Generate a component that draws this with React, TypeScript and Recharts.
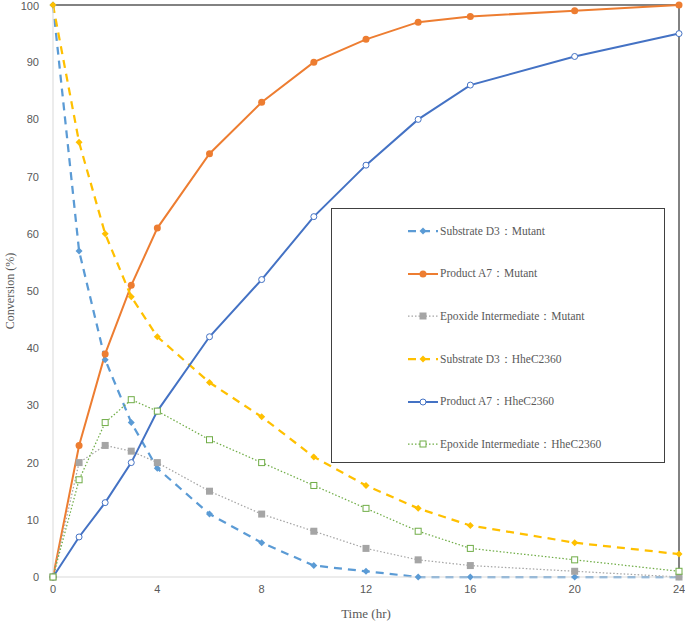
import { LineChart, Line, XAxis, YAxis, ReferenceLine, Legend } from "recharts";

// hours sampled
const hours = [0, 1, 2, 3, 4, 6, 8, 10, 12, 14, 16, 20, 24];

// Mutant
const substrateMutant = [100, 57, 38, 27, 19, 11, 6, 2, 1, 0, 0, 0, 0];
const productMutant = [0, 23, 39, 51, 61, 74, 83, 90, 94, 97, 98, 99, 100];
const epoxideMutant = [0, 20, 23, 22, 20, 15, 11, 8, 5, 3, 2, 1, 0];

// HheC2360
const substrateWild = [100, 76, 60, 49, 42, 34, 28, 21, 16, 12, 9, 6, 4];
const productWild = [0, 7, 13, 20, 29, 42, 52, 63, 72, 80, 86, 91, 95];
const epoxideWild = [0, 17, 27, 31, 29, 24, 20, 16, 12, 8, 5, 3, 1];

const xTicks = [0, 4, 8, 12, 16, 20, 24];
const yTicks = [0, 10, 20, 30, 40, 50, 60, 70, 80, 90, 100];

const rows = hours.map((t, i) => ({
  t,
  sMut: substrateMutant[i],
  pMut: productMutant[i],
  eMut: epoxideMutant[i],
  sWild: substrateWild[i],
  pWild: productWild[i],
  eWild: epoxideWild[i],
}));

type MarkerKind = "diamond" | "dot" | "square" | "ring" | "box";

interface SeriesDef {
  key: string;
  name: string;
  color: string;
  width: number;
  dash?: string;
  marker: MarkerKind;
}

const series: SeriesDef[] = [
  { key: "sMut", name: "Substrate D3：Mutant", color: "#5B9BD5", width: 2.25, dash: "8 6", marker: "diamond" },
  { key: "pMut", name: "Product A7：Mutant", color: "#ED7D31", width: 2, marker: "dot" },
  { key: "eMut", name: "Epoxide Intermediate：Mutant", color: "#A5A5A5", width: 1.25, dash: "1.5 2", marker: "square" },
  { key: "sWild", name: "Substrate D3：HheC2360", color: "#FFC000", width: 2.25, dash: "8 6", marker: "diamond" },
  { key: "pWild", name: "Product A7：HheC2360", color: "#4472C4", width: 2, marker: "ring" },
  { key: "eWild", name: "Epoxide Intermediate：HheC2360", color: "#70AD47", width: 1.25, dash: "1.5 2", marker: "box" },
];

function Marker({ kind, color, x, y }: { kind: MarkerKind; color: string; x: number; y: number }) {
  switch (kind) {
    case "diamond":
      return <path d={`M${x},${y - 3.5}L${x + 3.5},${y}L${x},${y + 3.5}L${x - 3.5},${y}Z`} fill={color} />;
    case "dot":
      return <circle cx={x} cy={y} r={3.5} fill={color} />;
    case "square":
      return <rect x={x - 3.5} y={y - 3.5} width={7} height={7} fill={color} />;
    case "ring":
      return <circle cx={x} cy={y} r={3} fill="#fff" stroke={color} strokeWidth={1} />;
    default:
      return <rect x={x - 3} y={y - 3} width={6} height={6} fill="#fff" stroke={color} strokeWidth={1} />;
  }
}

const serif = "'Liberation Serif', 'Times New Roman', serif";
const sans = "'Liberation Sans', Arial, sans-serif";

function LegendBox() {
  return (
    <div
      style={{
        boxSizing: "border-box",
        width: "100%",
        height: "100%",
        border: "1px solid #404040",
        background: "#fff",
        paddingTop: 1,
        paddingLeft: 76,
      }}
    >
      {series.map((s) => (
        <div key={s.key} style={{ height: 42.6, display: "flex", alignItems: "center" }}>
          <svg width={30} height={10} style={{ marginRight: 2 }}>
            <line x1={0} y1={5} x2={30} y2={5} stroke={s.color} strokeWidth={s.width} strokeDasharray={s.dash} />
            <Marker kind={s.marker} color={s.color} x={15} y={5} />
          </svg>
          <span style={{ fontFamily: serif, fontSize: 11.5, color: "#595959" }}>{s.name}</span>
        </div>
      ))}
    </div>
  );
}

export default function App() {
  return (
    <div style={{ position: "absolute", left: 0, top: 0, background: "#fff" }}>
      <LineChart width={685} height={621} data={rows} margin={{ top: 5, right: 6, left: 0, bottom: 0 }}>
        <XAxis
          dataKey="t"
          type="number"
          domain={[0, 24]}
          ticks={xTicks}
          height={44}
          tickLine={false}
          axisLine={{ stroke: "#D9D9D9" }}
          tick={{ fontSize: 11, fill: "#595959", fontFamily: sans }}
          label={{ value: "Time (hr)", position: "insideBottom", offset: 3, style: { fontFamily: serif, fontSize: 13, fill: "#595959" } }}
        />
        <YAxis
          type="number"
          domain={[0, 100]}
          ticks={yTicks}
          width={53}
          tickLine={false}
          axisLine={{ stroke: "#D9D9D9" }}
          tickMargin={8}
          tick={{ fontSize: 11, fill: "#595959", fontFamily: sans }}
          label={{
            value: "Conversion (%)",
            angle: -90,
            position: "insideLeft",
            offset: 10,
            style: { textAnchor: "middle", fontFamily: serif, fontSize: 12, fill: "#595959" },
          }}
        />
        <ReferenceLine y={100} stroke="#595959" strokeWidth={1.5} />
        <ReferenceLine x={24} stroke="#595959" strokeWidth={1.5} />
        {series.map((s) => (
          <Line
            key={s.key}
            dataKey={s.key}
            name={s.name}
            type="linear"
            stroke={s.color}
            strokeWidth={s.width}
            strokeDasharray={s.dash}
            isAnimationActive={false}
            dot={(p: any) => <Marker key={`${s.key}-${p.index}`} kind={s.marker} color={s.color} x={p.cx} y={p.cy} />}
            activeDot={false}
          />
        ))}
        <Legend
          layout="vertical"
          align="center"
          verticalAlign="middle"
          content={() => <LegendBox />}
          wrapperStyle={{ left: 331, top: 208, width: 334, height: 255 }}
        />
      </LineChart>
    </div>
  );
}
